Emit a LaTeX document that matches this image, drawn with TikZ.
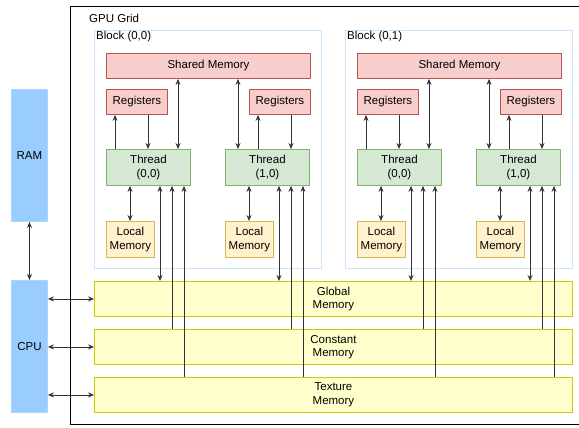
\documentclass[tikz,border=0pt]{standalone}
\usepackage{fontspec}
\setmainfont{Liberation Sans}
\usetikzlibrary{arrows.meta}

\definecolor{shmfill}{HTML}{F8CECC}
\definecolor{shmline}{HTML}{B85450}
\definecolor{thrfill}{HTML}{D5E8D4}
\definecolor{thrline}{HTML}{82B366}
\definecolor{locfill}{HTML}{FFF2CC}
\definecolor{locline}{HTML}{D6B656}
\definecolor{memfill}{HTML}{FFFFCC}
\definecolor{memline}{HTML}{CCCC00}
\definecolor{hostfill}{HTML}{99CCFF}
\definecolor{blkline}{HTML}{CCE5FF}

\begin{document}
\begin{tikzpicture}[x=1pt, y=-1pt, font=\fontsize{11.5}{13.5}\selectfont,
	>={Stealth[length=6pt,width=5pt]},
	box/.style={anchor=north west, inner sep=0pt, align=center, line width=0.9pt},
	shm/.style={box, draw=shmline, fill=shmfill},
	thr/.style={box, draw=thrline, fill=thrfill, minimum width=84, minimum height=36},
	loc/.style={box, draw=locline, fill=locfill, minimum width=48, minimum height=36},
	mem/.style={box, draw=memline, fill=memfill, minimum width=478, minimum height=35},
	host/.style={box, draw=hostfill!80!white, fill=hostfill, minimum width=36},
	blk/.style={box, draw=blkline, minimum width=227, minimum height=238},
	lbl/.style={anchor=west, inner sep=2pt},
	wire/.style={draw=black!80, line width=0.8pt}]
	\useasboundingbox (0,0) rectangle (579,428);

	% host side
	\node[host, minimum height=132] (RAM) at (11,89) {RAM};
	\node[host, minimum height=132] (CPU) at (11,280) {CPU};
	\draw[wire, <->] (RAM.south) -- (CPU.north);

	% device
	\node[box, draw, line width=1.2pt, minimum width=514, minimum height=418] (grid) at (70,6) {};
	\node[lbl] (gridlbl) at (87,18) {GPU Grid};

	\node[mem] (G) at (94,281) {Global\\Memory};
	\node[mem] (C) at (94,329) {Constant\\Memory};
	\node[mem] (X) at (94,377) {Texture\\Memory};
	\draw[wire, <->] (CPU.east |- G.west) -- (G.west);
	\draw[wire, <->] (CPU.east |- C.west) -- (C.west);
	\draw[wire, <->] (CPU.east |- X.west) -- (X.west);

	\foreach \b/\bx in {0/0, 1/251} {
		\node[blk] (B\b) at (94+\bx,30) {};
		\node[lbl] (Bl\b) at ([yshift=-7pt]B\b.north west) {Block (0,\b)};
		\node[shm, minimum width=204, minimum height=25] (S\b) at (106+\bx,53) {Shared Memory};
		\foreach \t/\tx/\rx/\up/\dn/\sh in {0/106/106/9/42/72, 1/225/249/33/66/13} {
			\node[shm, minimum width=61, minimum height=25] (R\b\t) at (\rx+\bx,89) {Registers};
			\node[thr] (T\b\t) at (\tx+\bx,149) {Thread\\(\t,0)};
			\node[loc] (L\b\t) at (\tx+\bx,221) {Local\\Memory};
			\draw[wire, ->] ([xshift=\up pt]T\b\t.north west) -- ([xshift=\up pt]T\b\t.north west |- R\b\t.south);
			\draw[wire, <-] ([xshift=\dn pt]T\b\t.north west) -- ([xshift=\dn pt]T\b\t.north west |- R\b\t.south);
			\draw[wire, <->] ([xshift=\sh pt]T\b\t.north west) -- ([xshift=\sh pt]T\b\t.north west |- S\b.south);
			\draw[wire, <->] ([xshift=24pt]T\b\t.south west) -- ([xshift=24pt]T\b\t.south west |- L\b\t.north);
			\draw[wire, <->] ([xshift=54pt]T\b\t.south west) -- ([xshift=54pt]T\b\t.south west |- G.north);
			\draw[wire, <-] ([xshift=66pt]T\b\t.south west) -- ([xshift=66pt]T\b\t.south west |- C.north);
			\draw[wire, <-] ([xshift=78pt]T\b\t.south west) -- ([xshift=78pt]T\b\t.south west |- X.north);
		}
	}
\end{tikzpicture}
\end{document}
